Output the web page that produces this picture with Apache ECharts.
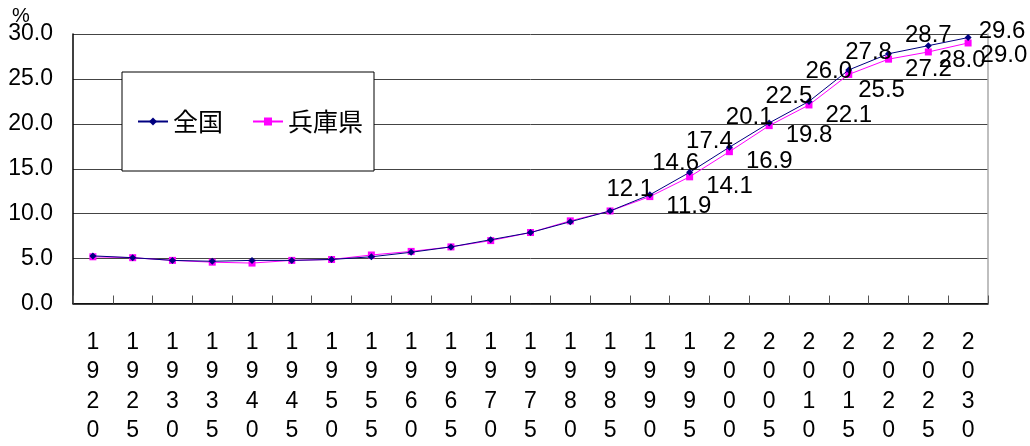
<!DOCTYPE html>
<html>
<head>
<meta charset="utf-8">
<script src="https://cdn.jsdelivr.net/npm/echarts@6/dist/echarts.min.js"></script>
<style>
html,body{margin:0;padding:0;background:#fff;}
#chart{width:1030px;height:446px;}
</style>
</head>
<body>
<div id="chart"></div>
<script>
const years = ['1920','1925','1930','1935','1940','1945','1950','1955','1960','1965','1970','1975','1980','1985','1990','1995','2000','2005','2010','2015','2020','2025','2030'];
const zenkoku = [5.3,5.1,4.8,4.7,4.8,4.8,4.9,5.2,5.7,6.3,7.1,7.9,9.1,10.3,12.1,14.6,17.4,20.1,22.5,26.0,27.8,28.7,29.6];
const hyogo = [5.2,5.1,4.8,4.6,4.5,4.8,4.9,5.4,5.8,6.3,7.0,7.9,9.2,10.3,11.9,14.1,16.9,19.8,22.1,25.5,27.2,28.0,29.0];
const yTicks = [0,5,10,15,20,25,30];
const firstLabelIndex = 14;

const latin = '"Liberation Sans", Arial, sans-serif';
const cjk = '"Noto Sans CJK JP", sans-serif';

function zenkokuLabel(i){
  if (i < firstLabelIndex) return {show:false};
  let offset = [-20, 15];
  if (i === 15) offset = [-14, 12];
  if (i === 19) offset = [-20, 22];
  if (i === 20) offset = [-20, 19];
  if (i === 21) offset = [0, 10];
  if (i === 22) offset = [34, 14];
  return {show:true, position:'top', offset};
}
function hyogoLabel(i){
  if (i < firstLabelIndex) return {show:false};
  let offset = [8, 10];
  if (i === 19) offset = [1, 16];
  if (i === 21) offset = [2, 8];
  if (i === 22) offset = [4, 12];
  return {show:true, position:'right', distance:5, offset};
}

const yMin = yTicks[0], yMax = yTicks[yTicks.length-1];

const chart = echarts.init(document.getElementById('chart'));
chart.setOption({
  animation:false,
  backgroundColor:'#fff',
  grid:{left:73, right:42, top:34, bottom:142.5, containLabel:false},
  legend:{
    left:122, top:72,
    orient:'horizontal',
    itemWidth:30, itemHeight:10, itemGap:29,
    padding:[37,11,37,15],
    borderColor:'#000', borderWidth:1,
    backgroundColor:'#fff',
    textStyle:{fontFamily:cjk, fontSize:25, color:'#000'},
    data:['全国','兵庫県']
  },
  graphic:[{type:'text', left:12, top:6, style:{text:'%', fontFamily:latin, fontSize:20, fill:'#000'}}],
  xAxis:{
    type:'category',
    data:years,
    boundaryGap:true,
    axisLine:{lineStyle:{color:'#000', width:1.5}},
    axisTick:{show:true, inside:true, length:8, lineStyle:{color:'#555'}},
    axisLabel:{
      interval:0, margin:24,
      fontFamily:latin, fontSize:23, color:'#000', lineHeight:29.5,
      formatter:v=>v.split('').join('\n')
    },
    splitLine:{show:false}
  },
  yAxis:[{
    type:'value', min:yMin, max:yMax, interval:5,
    axisLine:{show:true, lineStyle:{color:'#000', width:1.5}},
    axisTick:{show:false},
    axisLabel:{fontFamily:latin, fontSize:23, color:'#000', margin:20, formatter:v=>v.toFixed(1)},
    splitLine:{show:true, lineStyle:{color:'#444', width:1}}
  },{
    type:'value', position:'right', min:yMin, max:yMax, interval:5,
    axisLine:{show:true, lineStyle:{color:'#aaa', width:1.5}},
    axisTick:{show:false}, axisLabel:{show:false}, splitLine:{show:false}
  }],
  series:[
    {
      name:'全国', type:'line',
      data:zenkoku.map((v,i)=>({value:v, label:zenkokuLabel(i)})),
      symbol:'diamond', symbolSize:7,
      itemStyle:{color:'#000080'},
      lineStyle:{color:'#000080', width:1},
      label:{fontFamily:latin, fontSize:24, color:'#000', formatter:p=>p.value.toFixed(1)},
      z:3
    },
    {
      name:'兵庫県', type:'line',
      data:hyogo.map((v,i)=>({value:v, label:hyogoLabel(i)})),
      symbol:'rect', symbolSize:7,
      itemStyle:{color:'#ff00ff'},
      lineStyle:{color:'#ff00ff', width:1},
      label:{fontFamily:latin, fontSize:24, color:'#000', formatter:p=>p.value.toFixed(1)},
      z:2
    }
  ]
});
</script>
</body>
</html>
